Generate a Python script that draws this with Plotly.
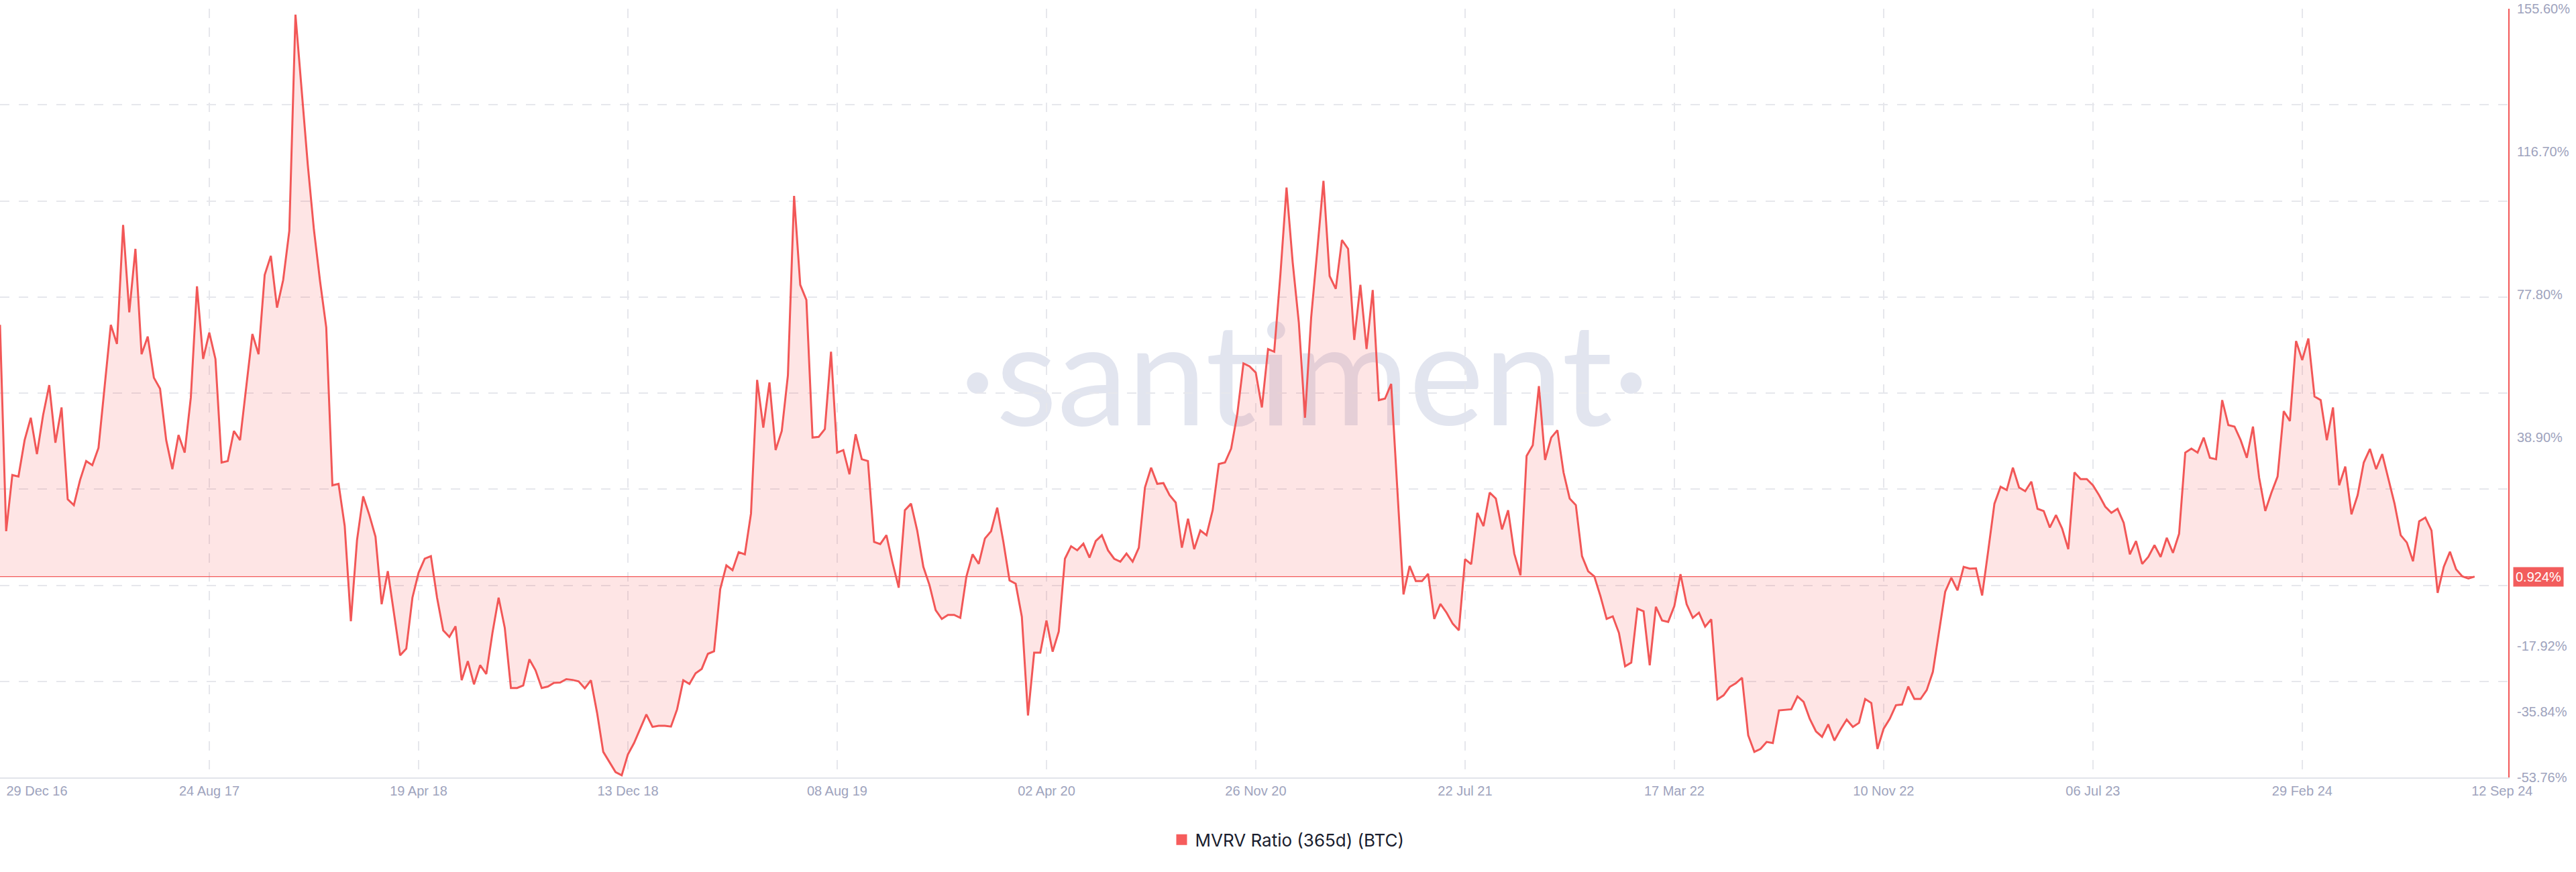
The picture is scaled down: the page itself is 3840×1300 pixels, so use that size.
import pandas as pd
import plotly.graph_objects as go

# ---------------- data ----------------
start_date = "2016-12-29"   # weekly series, last point 12 Sep 2024
mvrv_365d = [
    69.5, 13.3, 28.6, 28.2, 38.1, 44.2, 34.3, 44.9, 53.1, 37.4,
    47.0, 22.0, 20.4, 27.2, 32.4, 31.3, 36.0, 52.4, 69.5, 64.3,
    96.7, 72.9, 90.2, 61.5, 66.3, 55.1, 52.1, 38.1, 30.2, 39.5,
    34.7, 49.7, 80.0, 60.2, 67.4, 60.2, 32.0, 32.4, 40.6, 38.1,
    52.4, 67.0, 61.5, 83.1, 88.3, 74.2, 81.7, 95.1, 154.0, 133.5,
    113.1, 95.4, 81.3, 68.8, 25.8, 26.2, 14.7, -11.2, 10.9, 22.8,
    17.7, 11.8, -6.6, 2.4, -8.9, -20.5, -18.7, -4.8, 2.0, 5.8,
    6.5, -4.8, -13.7, -15.5, -12.6, -27.3, -22.1, -28.4, -23.2, -25.6,
    -14.4, -4.8, -13.0, -29.4, -29.4, -28.7, -21.6, -24.6, -29.4, -29.0,
    -28.0, -27.9, -27.0, -27.2, -27.6, -29.5, -27.3, -36.2, -46.8, -49.5,
    -52.3, -53.2, -47.5, -44.4, -40.5, -36.6, -40.0, -39.7, -39.7, -39.9,
    -35.2, -27.3, -28.3, -25.4, -24.2, -20.1, -19.4, -2.5, 4.0, 2.7,
    7.6, 7.0, 18.1, 54.5, 41.5, 53.8, 35.4, 40.6, 55.8, 104.6,
    80.4, 76.3, 38.8, 39.0, 41.1, 62.2, 34.7, 35.4, 28.8, 39.7,
    32.9, 32.4, 10.4, 9.8, 12.2, 4.7, -2.1, 19.0, 20.8, 13.5,
    3.6, -1.4, -8.2, -10.6, -9.5, -9.5, -10.3, 1.0, 7.0, 4.4,
    11.3, 13.3, 19.7, 10.4, -0.1, -1.0, -10.0, -36.9, -19.8, -19.8,
    -11.0, -19.5, -14.0, 5.8, 9.2, 8.1, 9.9, 6.1, 10.6, 12.2,
    8.1, 5.8, 5.0, 7.2, 5.0, 8.8, 25.2, 30.6, 26.2, 26.4,
    23.1, 21.1, 8.8, 16.7, 8.4, 13.5, 12.2, 19.0, 31.6, 32.0,
    35.8, 45.2, 59.0, 58.2, 56.5, 47.0, 62.9, 62.2, 83.1, 106.9,
    86.5, 70.1, 44.2, 71.5, 89.9, 108.7, 82.8, 79.3, 92.6, 90.2,
    65.4, 80.4, 62.9, 79.0, 49.0, 49.4, 53.4, 25.2, -3.9, 3.8,
    -0.3, -0.3, 1.7, -10.6, -6.5, -8.9, -11.9, -13.7, 5.7, 4.3,
    18.3, 14.7, 23.8, 22.2, 13.8, 19.0, 7.2, 1.3, 33.8, 36.7,
    52.8, 32.7, 38.8, 40.8, 29.3, 22.2, 20.4, 6.5, 2.4, 1.0,
    -4.4, -10.6, -9.9, -14.4, -23.5, -22.5, -7.8, -8.5, -23.2, -7.3,
    -11.0, -11.4, -7.1, 1.6, -6.6, -10.3, -8.9, -12.7, -10.7, -32.5,
    -31.4, -29.1, -28.1, -26.6, -42.3, -46.8, -46.0, -44.1, -44.4, -35.5,
    -35.4, -35.2, -31.7, -33.2, -37.8, -41.2, -42.7, -39.3, -43.7, -40.7,
    -38.0, -40.0, -38.9, -32.4, -33.5, -46.0, -40.5, -37.8, -34.1, -33.9,
    -29.0, -32.4, -32.4, -30.0, -25.0, -14.0, -3.2, 0.6, -2.8, 3.6,
    3.1, 3.2, -4.2, 8.1, 20.8, 25.4, 24.5, 30.6, 25.2, 24.2,
    26.8, 19.4, 18.8, 14.3, 17.7, 14.0, 8.4, 29.3, 27.5, 27.5,
    25.8, 23.1, 20.0, 18.3, 19.4, 15.6, 7.0, 10.6, 4.4, 6.3,
    9.5, 6.3, 11.5, 7.4, 12.6, 34.7, 35.8, 34.7, 38.8, 33.3,
    32.9, 49.0, 42.2, 41.8, 38.1, 33.3, 41.8, 27.9, 18.8, 23.8,
    28.2, 46.0, 43.3, 65.1, 59.9, 65.8, 50.0, 49.0, 38.1, 47.0,
    25.8, 30.9, 17.9, 23.1, 32.0, 35.7, 30.2, 34.3, 27.6, 20.8,
    12.2, 10.2, 5.1, 16.0, 17.0, 13.5, -3.5, 3.6, 7.7, 2.9,
    1.0, 0.4, 0.924,
]

grid_dates = ["2016-12-29", "2017-08-24", "2018-04-19", "2018-12-13",
              "2019-08-08", "2020-04-02", "2020-11-26", "2021-07-22",
              "2022-03-17", "2022-11-10", "2023-07-06", "2024-02-29"]
label_dates = grid_dates + ["2024-09-12"]
label_texts = ["29 Dec 16", "24 Aug 17", "19 Apr 18", "13 Dec 18", "08 Aug 19",
               "02 Apr 20", "26 Nov 20", "22 Jul 21", "17 Mar 22", "10 Nov 22",
               "06 Jul 23", "29 Feb 24", "12 Sep 24"]
y_tick_vals = [155.6, 116.7, 77.8, 38.9, -17.92, -35.84, -53.76]
y_tick_text = ["155.60%", "116.70%", "77.80%", "38.90%", "-17.92%", "-35.84%", "-53.76%"]
y_min, y_max = -53.76, 155.6
x_range = ["2016-12-29", "2024-10-20 07:00"]
series_name = "MVRV Ratio (365d) (BTC)"

# ---------------- styling ----------------
RED = "#F25757"
GRID = "#E6E7EC"
TICK = "#9EA3BD"
FONT = "Liberation Sans"

dates = pd.date_range(start_date, periods=len(mvrv_365d), freq="7D")
last_val = mvrv_365d[-1]

n_grid = 8
y_grid = [y_min + (y_max - y_min) * i / n_grid for i in range(n_grid + 1)]

fig = go.Figure()

# reference line at the latest value (fill baseline)
fig.add_trace(go.Scatter(
    x=dates, y=[last_val] * len(dates), mode="lines",
    line=dict(color=RED, width=1.3), hoverinfo="skip", showlegend=False))

fig.add_trace(go.Scatter(
    x=dates, y=mvrv_365d, mode="lines", name=series_name,
    line=dict(color=RED, width=3),
    fill="tonexty", fillcolor="rgba(245,80,80,0.15)",
    showlegend=False))

# legend entry (square swatch)
fig.add_trace(go.Scatter(
    x=[None], y=[None], mode="markers", name=series_name,
    marker=dict(symbol="square", size=18, color="#F65C5C"),
    showlegend=True))

# label-only overlay axes (empty traces so they render)
for xa in ["x2", "x3", "x4"]:
    fig.add_trace(go.Scatter(
        x=[None], y=[None], xaxis=xa, yaxis="y2", mode="markers",
        hoverinfo="skip", showlegend=False))

xlab_common = dict(
    type="date", range=x_range, overlaying="x", anchor="y", side="bottom",
    tickangle=0, showgrid=False, showline=False, zeroline=False, ticks="",
    ticklabelstandoff=6, automargin=False,
    tickfont=dict(family=FONT, size=20, color=TICK))

fig.update_layout(
    width=3840, height=1300,
    margin=dict(l=0, r=101, t=13, b=141, autoexpand=False),
    paper_bgcolor="white", plot_bgcolor="white",
    font=dict(family=FONT, size=20, color=TICK),
    xaxis=dict(
        type="date", range=x_range, tickvals=grid_dates, showticklabels=False,
        showgrid=True, gridcolor=GRID, gridwidth=1.6, griddash="14px,14px",
        showline=True, linecolor="#E2E4EA", linewidth=2, zeroline=False,
        ticks="", automargin=False),
    yaxis=dict(
        range=[y_min, y_max], tickvals=y_grid, showticklabels=False,
        showgrid=True, gridcolor=GRID, gridwidth=1.6, griddash="14px,14px",
        side="right", showline=True, linecolor=RED, linewidth=2,
        zeroline=False, ticks="", automargin=False),
    # middle labels, centred on their gridlines
    xaxis2=dict(xlab_common, tickvals=label_dates[1:-1], ticktext=label_texts[1:-1]),
    # first label, nudged inside the left edge
    xaxis3=dict(xlab_common, tickvals=label_dates[:1], ticktext=label_texts[:1],
                ticklabelshift=55, ticklabeloverflow="allow"),
    # last label, nudged toward the right axis
    xaxis4=dict(xlab_common, tickvals=label_dates[-1:], ticktext=label_texts[-1:],
                ticklabelshift=41, ticklabeloverflow="allow"),
    yaxis2=dict(
        range=[y_min, y_max], overlaying="y", anchor="x", side="right",
        tickvals=y_tick_vals, ticktext=y_tick_text,
        showgrid=False, showline=False, zeroline=False, ticks="",
        ticklabelstandoff=12, ticklabeloverflow="allow", automargin=False,
        tickfont=dict(family=FONT, size=20, color=TICK)),
    legend=dict(
        orientation="h", x=0.5135, xanchor="center", y=-0.081, yanchor="middle",
        font=dict(family="Inter", size=26, color="#1A1D2E"),
        itemsizing="trace", bgcolor="rgba(0,0,0,0)"),
    shapes=[dict(
        type="rect", xref="paper", yref="paper",
        x0=0.42, x1=0.62, y0=0.467, y1=0.597,
        line=dict(width=0), fillcolor="rgba(0,0,0,0)", layer="below",
        label=dict(text="\u00b7santiment\u00b7", textposition="middle center",
                   font=dict(family="Lato", size=211, color="#E2E5EF")))],
    annotations=[dict(
        xref="paper", yref="y", x=1, y=last_val, xanchor="left", yanchor="middle",
        xshift=7, text=f"{last_val:.3f}%", showarrow=False,
        font=dict(family=FONT, size=20, color="white"),
        bgcolor="#F25C5C", borderpad=3)],
)

fig.write_html("out.html", config={"displayModeBar": False},
               post_script="document.body.style.margin='0';")
